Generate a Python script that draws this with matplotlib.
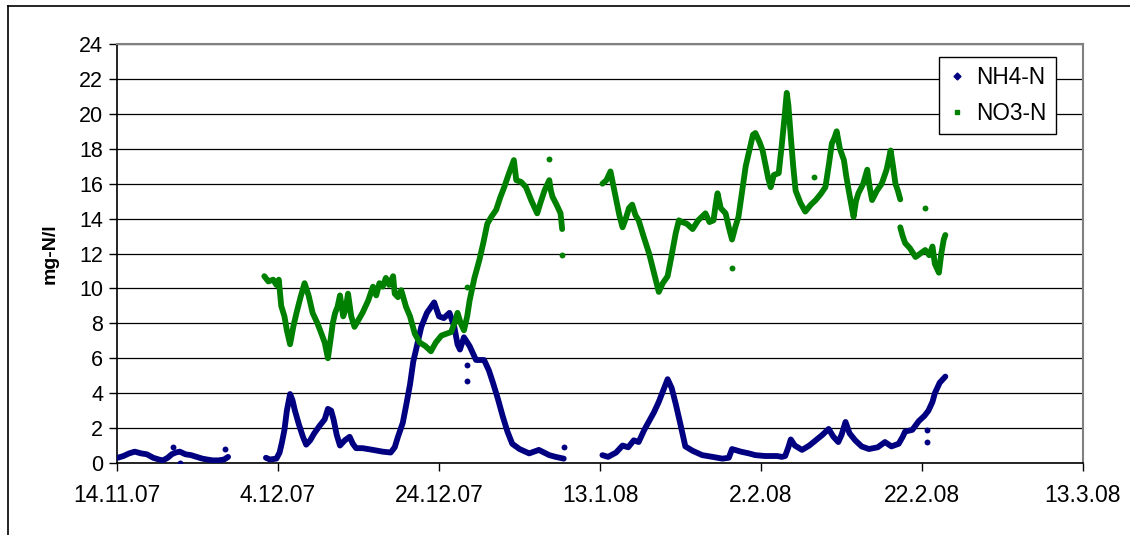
"""Recreate the NH4-N / NO3-N time series chart (Nov 2007 - Mar 2008)."""

import numpy as np
import matplotlib.pyplot as plt
from matplotlib.lines import Line2D

plt.rcParams['font.family'] = ['Liberation Sans', 'DejaVu Sans']

# x values are days since 14.11.07; nan marks a gap in the record
nan = np.nan
nh4_day = [
    0.1, 0.8, 1.5, 2.2, 3.0, 3.7, 4.5, 5.2, 5.7, 6.3, 6.8, 7.3, 7.8, 8.5,
    9.2, 9.9, 10.6, 11.2, 11.9, 12.6, 13.3, 13.8, nan,
    18.5, 19.0, 19.8, 20.2, 20.5, 20.8, 21.1, 21.5, 21.8, 22.1, 22.6, 23.1,
    23.5, 24.0, 24.5, 25.2, 25.8, 26.2, 26.6, 26.9, 27.3, 27.7, 28.3, 28.9,
    29.3, 29.7, 30.5, 31.8, 33.0, 34.0, 34.5, 34.9, 35.5, 36.0, 36.4, 36.8,
    37.2, 37.8, 38.5, 39.4, 40.0, 40.6, 41.3, 41.9, 42.3, 42.6, 43.1, 43.8,
    44.6, 45.6, 46.2, 46.7, 47.3, 47.9, 48.5, 49.1, 50.0, 51.2, 52.4, 53.7,
    54.5, 55.5, nan,
    60.3, 61.0, 62.0, 62.8, 63.5, 64.2, 64.8, 65.5, 66.1, 66.7, 67.3, 67.9,
    68.4, 68.9, 69.4, 70.0, 70.6, 71.5, 72.7, 74.0, 75.2, 76.0, 76.4, 77.5,
    78.5, 79.3, 80.5, 82.0, 82.6, 83.0, 83.4, 83.7, 84.2, 85.1, 86.0, 86.8,
    87.6, 88.4, 89.0, 89.6, 90.0, 90.5, 91.0, 91.7, 92.5, 93.4, 94.5, 95.4,
    96.2, 97.1, 97.6, 97.9, 98.8, 99.6, 100.3, 100.8, 101.3, 101.6, 102.2,
    102.9,
]
nh4_val = [
    0.3, 0.4, 0.55, 0.65, 0.55, 0.5, 0.3, 0.2, 0.15, 0.3, 0.5, 0.6, 0.65, 0.5,
    0.45, 0.35, 0.25, 0.2, 0.15, 0.15, 0.2, 0.35, nan,
    0.3, 0.2, 0.25, 0.6, 1.2, 1.9, 3.0, 3.95, 3.6, 3.0, 2.2, 1.5,
    1.05, 1.3, 1.7, 2.15, 2.5, 3.1, 3.0, 2.5, 1.6, 1.0, 1.3, 1.5,
    1.1, 0.85, 0.85, 0.75, 0.65, 0.6, 0.9, 1.5, 2.3, 3.5, 4.5, 5.8,
    6.6, 7.8, 8.6, 9.2, 8.4, 8.3, 8.6, 7.8, 6.8, 6.5, 7.2, 6.7,
    5.9, 5.9, 5.3, 4.6, 3.7, 2.7, 1.8, 1.1, 0.8, 0.55, 0.75, 0.45,
    0.35, 0.25, nan,
    0.45, 0.35, 0.6, 1.0, 0.9, 1.3, 1.2, 1.9, 2.4, 2.9, 3.5, 4.2,
    4.8, 4.3, 3.4, 2.2, 0.95, 0.7, 0.45, 0.35, 0.25, 0.3, 0.8, 0.65,
    0.55, 0.45, 0.4, 0.4, 0.35, 0.4, 0.9, 1.35, 1.0, 0.75, 1.0, 1.3,
    1.6, 1.95, 1.5, 1.2, 1.6, 2.35, 1.7, 1.3, 0.95, 0.8, 0.9, 1.2,
    0.95, 1.1, 1.5, 1.8, 1.9, 2.4, 2.7, 3.0, 3.5, 4.0, 4.6,
    4.95,
]
nh4_out_day = [7.0, 7.8, 13.4, 43.5, 43.5, 55.5, 100.6, 100.6]
nh4_out_val = [0.9, 0.0, 0.8, 5.6, 4.7, 0.9, 1.9, 1.2]

no3_day = [
    18.3, 18.8, 19.4, 19.8, 20.1, 20.4, 20.8, 21.1, 21.5, 21.9, 22.3, 22.8,
    23.3, 23.8, 24.3, 24.9, 25.4, 25.8, 26.2, 26.6, 26.8, 27.1, 27.4, 27.7,
    28.1, 28.4, 28.7, 29.1, 29.5, 30.0, 30.5, 31.2, 31.8, 32.2, 32.6, 33.0,
    33.4, 33.8, 34.3, 34.5, 34.9, 35.3, 35.5, 35.9, 36.4, 37.0, 37.6, 38.3,
    39.0, 39.6, 40.3, 40.9, 41.5, 42.0, 42.3, 42.7, 43.1, 43.5, 43.8, 44.4,
    45.0, 45.5, 46.0, 46.5, 47.1, 47.6, 48.1, 48.7, 49.3, 49.6, 50.2, 50.8,
    51.5, 52.2, 52.6, 53.1, 53.5, 53.7, 53.9, 54.1, 54.6, 55.1, 55.3, nan,
    60.3, 60.8, 61.3, 61.7, 62.0, 62.4, 62.8, 63.2, 63.6, 64.0, 64.4, 64.8,
    65.4, 66.1, 66.7, 67.3, 67.8, 68.4, 68.9, 69.4, 69.8, 70.2, 70.8, 71.5,
    72.2, 73.1, 73.6, 74.1, 74.4, 74.6, 75.0, 75.6, 76.0, 76.4, 76.8, 77.2,
    77.6, 78.1, 78.6, 79.0, 79.3, 79.8, 80.2, 80.6, 80.9, 81.2, 81.6, 82.2,
    82.6, 82.9, 83.2, 83.4, 83.7, 84.0, 84.3, 84.9, 85.5, 86.2, 86.8, 87.4,
    88.0, 88.4, 88.8, 89.1, 89.4, 89.8, 90.3, 90.6, 90.9, 91.5, 91.8, 92.1,
    92.7, 93.2, 93.5, 93.8, 94.4, 95.0, 95.6, 96.1, 96.4, 96.7, 97.0, 97.3,
    nan,
    97.3, 97.6, 97.9, 98.5, 99.2, 99.8, 100.4, 100.9, 101.3, 101.6, 102.1,
    102.4, 102.7, 102.9,
]
no3_val = [
    10.7, 10.4, 10.5, 10.2, 10.5, 9.0, 8.4, 7.6, 6.8, 7.8, 8.6, 9.5,
    10.3, 9.6, 8.6, 8.0, 7.4, 6.9, 6.0, 7.3, 8.0, 8.6, 8.95, 9.6,
    8.4, 8.8, 9.7, 8.4, 7.8, 8.2, 8.6, 9.3, 10.1, 9.6, 10.3, 10.1,
    10.6, 10.2, 10.7, 9.7, 9.5, 9.9, 9.6, 8.95, 8.4, 7.4, 6.9, 6.7,
    6.4, 6.9, 7.3, 7.4, 7.5, 8.1, 8.6, 8.0, 7.6, 8.4, 9.3, 10.6,
    11.6, 12.6, 13.7, 14.1, 14.5, 15.2, 15.8, 16.6, 17.35, 16.2, 16.1, 15.8,
    15.0, 14.3, 14.9, 15.6, 16.0, 16.2, 15.6, 15.25, 14.8, 14.3, 13.4, nan,
    16.0, 16.2, 16.7, 15.8, 15.1, 14.2, 13.5, 14.0, 14.6, 14.8, 14.2, 13.9,
    13.0, 12.0, 10.9, 9.8, 10.3, 10.7, 11.9, 13.15, 13.9, 13.8, 13.7, 13.4,
    13.9, 14.3, 13.8, 13.9, 14.9, 15.45, 14.6, 14.3, 13.5, 12.8, 13.5, 14.1,
    15.4, 17.0, 18.0, 18.8, 18.9, 18.4, 17.9, 17.0, 16.3, 15.8, 16.5, 16.6,
    18.3, 19.7, 21.2, 20.5, 18.7, 17.0, 15.6, 14.9, 14.4, 14.8, 15.06, 15.4,
    15.8, 17.0, 18.3, 18.6, 19.0, 18.0, 17.35, 16.4, 15.6, 14.1, 15.0, 15.45,
    16.0, 16.8, 15.8, 15.06, 15.6, 16.0, 16.8, 17.9, 17.0, 16.0, 15.6, 15.1,
    nan,
    13.5, 13.0, 12.6, 12.3, 11.8, 12.0, 12.2, 11.9, 12.4, 11.4, 10.9,
    12.0, 12.8, 13.06,
]
no3_out_day = [43.5, 53.7, 55.3, 76.4, 86.6, 100.4]
no3_out_val = [10.1, 17.4, 11.9, 11.15, 16.4, 14.6]

tick_days = [0, 20, 40, 60, 80, 100, 120]
tick_labels = ['14.11.07', '4.12.07', '24.12.07', '13.1.08', '2.2.08',
               '22.2.08', '13.3.08']

NAVY = '#000080'
GREEN = '#008000'


def main():
    fig = plt.figure(figsize=(11.3, 5.35), dpi=100)
    ax = fig.add_axes([117 / 1130, 1 - 463 / 535, 966 / 1130, 419 / 535])

    # outer chart frame (only top and left edges fall inside the image)
    fig.add_artist(Line2D([8 / 1130, 1], [1 - 6 / 535] * 2,
                          color='black', lw=1.2, transform=fig.transFigure))
    fig.add_artist(Line2D([8 / 1130] * 2, [0, 1 - 6 / 535],
                          color='black', lw=1.2, transform=fig.transFigure))

    ax.plot(nh4_day, nh4_val, color=NAVY, lw=4.2, solid_joinstyle='round',
            solid_capstyle='round', zorder=3)
    ax.plot(no3_day, no3_val, color=GREEN, lw=4.2, solid_joinstyle='round',
            solid_capstyle='round', zorder=3)
    ax.scatter(nh4_out_day, nh4_out_val, s=18, color=NAVY, lw=0, zorder=3)
    ax.scatter(no3_out_day, no3_out_val, s=18, color=GREEN, lw=0, zorder=3)

    ax.set_xlim(0, 120)
    ax.set_ylim(0, 24)
    ax.set_yticks(range(0, 25, 2))
    ax.set_xticks(tick_days)
    ax.set_xticklabels(tick_labels)
    ax.tick_params(length=6, width=1, color='black', direction='out')
    ax.tick_params(axis='x', labelsize=16.5, pad=9)
    ax.tick_params(axis='y', labelsize=15.5, pad=4)
    ax.grid(axis='y', color='black', lw=0.9)
    ax.set_axisbelow(True)

    for side in ('left', 'bottom'):
        ax.spines[side].set_color('black')
        ax.spines[side].set_linewidth(1.2)
    for side in ('top', 'right'):
        ax.spines[side].set_color('#808080')
        ax.spines[side].set_linewidth(1.5)

    ax.set_ylabel('mg-N/l', fontsize=14, fontweight='bold', labelpad=15)

    handles = [
        Line2D([], [], ls='none', marker='D', ms=3.5, color=NAVY),
        Line2D([], [], ls='none', marker='s', ms=2.5, color=GREEN),
    ]
    leg = ax.legend(handles, ['NH4-N', 'NO3-N'], loc='upper right',
                    bbox_to_anchor=(1056 / 1130, 1 - 57 / 535),
                    bbox_transform=fig.transFigure, fontsize=16.3,
                    fancybox=False, framealpha=1, edgecolor='black',
                    handlelength=0.8, handletextpad=0.45, borderpad=0.4,
                    labelspacing=0.55, borderaxespad=0)
    leg.get_frame().set_linewidth(1.0)

    fig.savefig('out.png', dpi=100)


if __name__ == '__main__':
    main()
